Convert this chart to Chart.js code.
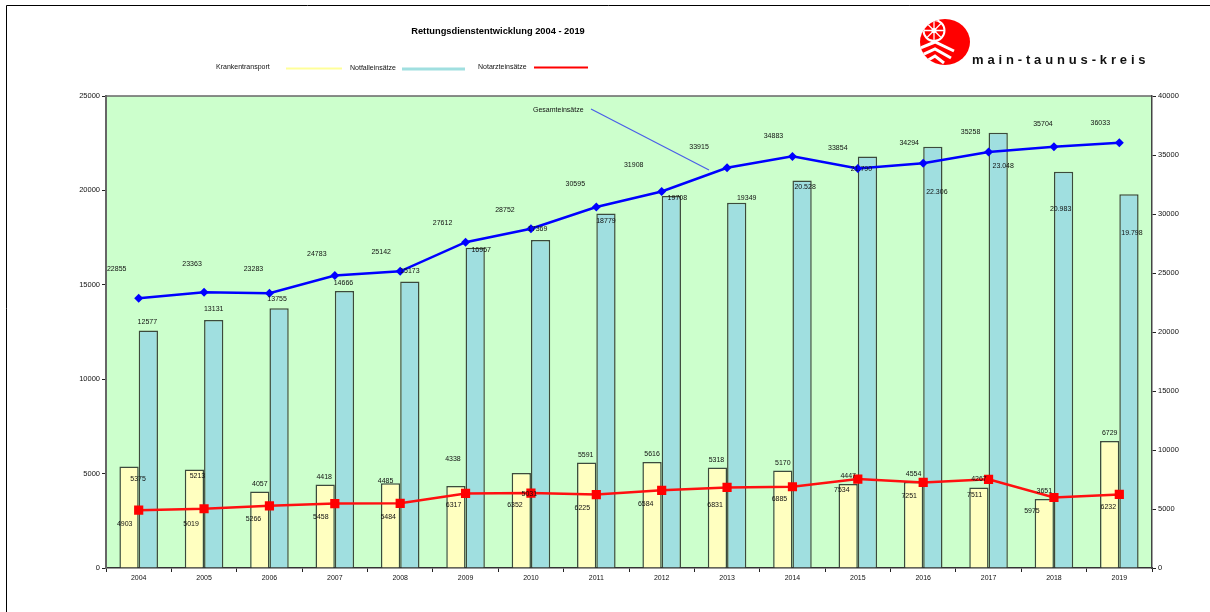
<!DOCTYPE html>
<html lang="de">
<head>
<meta charset="utf-8">
<title>Rettungsdienstentwicklung 2004 - 2019</title>
<script src="https://cdn.jsdelivr.net/npm/chart.js@4"></script>
<style>
html,body{margin:0;padding:0;background:#fff;width:1210px;height:612px;overflow:hidden}
#wrap{position:relative;width:1210px;height:612px;filter:blur(0.35px)}
canvas{position:absolute;left:0;top:0}
#logo{position:absolute;left:0;top:0}
</style>
</head>
<body>
<div id="wrap">
<canvas id="c" width="1210" height="612"></canvas>
<svg id="logo" width="1210" height="612" xmlns="http://www.w3.org/2000/svg">
  <defs><clipPath id="disc"><ellipse cx="945" cy="42" rx="25" ry="23"/></clipPath></defs>
  <ellipse cx="945" cy="42" rx="25" ry="23" fill="#ff0000"/>
  <g clip-path="url(#disc)" fill="none" stroke="#fff">
    <circle cx="934" cy="30.5" r="10.5" stroke-width="2"/>
    <g stroke-width="1.3">
      <line x1="924" y1="30.5" x2="944" y2="30.5"/>
      <line x1="934" y1="20.5" x2="934" y2="40.5"/>
      <line x1="927" y1="23.5" x2="941" y2="37.5"/>
      <line x1="941" y1="23.5" x2="927" y2="37.5"/>
    </g>
    <circle cx="934" cy="30.5" r="2.6" fill="#fff" stroke="none"/>
    <polyline points="918,49 935,42 954,51" stroke-width="3"/>
    <polyline points="920,56 935,49 951,58" stroke-width="3"/>
    <polyline points="925,62 935,56 944,63" stroke-width="3"/>
  </g>
  <text x="972" y="64" font-family="Liberation Sans, Arial, sans-serif" font-size="13" font-weight="bold" letter-spacing="3.85" fill="#111">main-taunus-kreis</text>
</svg>
</div>
<script>
const categories = ['2004','2005','2006','2007','2008','2009','2010','2011','2012','2013','2014','2015','2016','2017','2018','2019'];

const krankentransport = [5375,5213,4057,4418,4485,4338,5031,5591,5616,5318,5170,4447,4554,4267,3651,6729];
const notfalleinsaetze = [12577,13131,13755,14666,15173,16957,17369,18779,19708,19349,20528,21790,22306,23048,20983,19798];
const notarzteinsaetze = [4903,5019,5266,5458,5484,6317,6352,6225,6584,6831,6885,7534,7251,7511,5975,6232];
const gesamteinsaetze = [22855,23363,23283,24783,25142,27612,28752,30595,31908,33915,34883,33854,34294,35258,35704,36033];

const notfallLabels = ['12577','13131','13755','14666','15173','16957','17369','18779','19708','19349','20.528','21.790','22.306','23.048','20.983','19.798'];

const leftTicks = [0,5000,10000,15000,20000,25000];
const rightTicks = [0,5000,10000,15000,20000,25000,30000,35000,40000];

// label placement relative to each mark, as hand-placed in the reference
const krankenOffsetX = [9,3,0,-1,-5,-3,8,-1,0,-1,0,0,0,0,0,0];
const krankenOffsetY = [13,6,-7,-8,-2,-27,21,-7,-8,-8,-7,-8,-8,-8,-8,-8];
const notfallOffsetX = [-1,0,-2,-1,0,6,-3,0,6,10,3,-6,4,5,-3,3];
const notfallOffsetY = [-8,-11,-9,-8,-10,2,-11,8,2,-5,7,12,45,33,37,39];
const notarztOffsetX = [-14,-13,-16,-14,-12,-12,-16,-14,-16,-12,-13,-16,-14,-14,-22,-11];
const notarztOffsetY = [14,15,13,13,14,12,12,14,14,18,12,11,14,16,14,13];
const gesamtOffsetX = [-22,-12,-16,-18,-19,-23,-26,-21,-28,-28,-19,-20,-14,-18,-11,-19];
const gesamtOffsetY = [-29,-28,-24,-21,-19,-19,-19,-23,-26,-21,-20,-20,-20,-20,-23,-20];

const FONT = '"Liberation Sans", Arial, sans-serif';
const TEXT = '#111';

const decor = {
  id: 'decor',
  beforeDraw(chart) {
    const {ctx, chartArea: a} = chart;
    ctx.save();
    ctx.fillStyle = '#ccffcc';
    ctx.fillRect(a.left, a.top, a.right - a.left, a.bottom - a.top);
    ctx.strokeStyle = '#666';
    ctx.lineWidth = 1.5;
    ctx.beginPath(); ctx.moveTo(a.left, a.top); ctx.lineTo(a.right, a.top); ctx.stroke();
    // page frame
    ctx.strokeStyle = '#000';
    ctx.lineWidth = 1;
    ctx.beginPath(); ctx.moveTo(6.5, 612); ctx.lineTo(6.5, 5.5); ctx.lineTo(1210, 5.5); ctx.stroke();
    // title
    ctx.fillStyle = '#000';
    ctx.textAlign = 'center';
    ctx.textBaseline = 'middle';
    ctx.font = 'bold 9.3px ' + FONT;
    ctx.fillText('Rettungsdienstentwicklung 2004 - 2019', 498, 31);
    // legend
    ctx.textAlign = 'left';
    ctx.font = '7px ' + FONT;
    const legend = [
      ['Krankentransport', 216, 67, 286, 342, 68.5, '#ffff99', 2],
      ['Notfalleinsätze', 350, 68, 402, 465, 69, '#a0dfe0', 3],
      ['Notarzteinsätze', 478, 67, 534, 588, 67.5, '#ff0000', 2]
    ];
    legend.forEach(([t, tx, ty, x0, x1, ly, col, w]) => {
      ctx.fillStyle = TEXT;
      ctx.fillText(t, tx, ty);
      ctx.strokeStyle = col; ctx.lineWidth = w;
      ctx.beginPath(); ctx.moveTo(x0, ly); ctx.lineTo(x1, ly); ctx.stroke();
    });
    ctx.restore();
  },
  afterDatasetsDraw(chart) {
    const {ctx} = chart;
    ctx.save();
    // callout for the total line
    ctx.strokeStyle = '#4a5ee8';
    ctx.lineWidth = 1.2;
    ctx.beginPath(); ctx.moveTo(591, 109); ctx.lineTo(709, 170); ctx.stroke();
    ctx.fillStyle = TEXT;
    ctx.font = '7px ' + FONT;
    ctx.textAlign = 'left';
    ctx.textBaseline = 'middle';
    ctx.fillText('Gesamteinsätze', 533, 110);
    // value labels
    ctx.textAlign = 'center';
    chart.data.datasets.forEach((ds, di) => {
      chart.getDatasetMeta(di).data.forEach((el, i) => {
        const txt = ds.labelTexts ? ds.labelTexts[i] : String(ds.data[i]);
        ctx.fillText(txt, el.x + ds.offX[i], el.y + ds.offY[i]);
      });
    });
    ctx.restore();
  }
};

new Chart(document.getElementById('c'), {
  type: 'bar',
  data: {
    labels: categories,
    datasets: [
      {label:'Krankentransport', data:krankentransport, yAxisID:'y', order:3,
       backgroundColor:'#ffffc0', borderColor:'#3c4a3c', borderWidth:1.5,
       categoryPercentage:0.59, barPercentage:1, offX:krankenOffsetX, offY:krankenOffsetY},
      {label:'Notfalleinsätze', data:notfalleinsaetze, yAxisID:'y', order:3,
       backgroundColor:'#a0dfe0', borderColor:'#3c4a3c', borderWidth:1.5,
       categoryPercentage:0.59, barPercentage:1, labelTexts:notfallLabels, offX:notfallOffsetX, offY:notfallOffsetY},
      {type:'line', label:'Notarzteinsätze', data:notarzteinsaetze, yAxisID:'y1', order:2,
       borderColor:'#ff1010', backgroundColor:'#ff0000', borderWidth:2.5,
       pointStyle:'rect', pointRadius:6.5, pointBorderWidth:0, tension:0, offX:notarztOffsetX, offY:notarztOffsetY},
      {type:'line', label:'Gesamteinsätze', data:gesamteinsaetze, yAxisID:'y1', order:1,
       borderColor:'#0000ff', backgroundColor:'#0000ff', borderWidth:2.5,
       pointStyle:'rectRot', pointRadius:4.5, pointBorderWidth:0, tension:0, offX:gesamtOffsetX, offY:gesamtOffsetY}
    ]
  },
  options: {
    responsive:false,
    animation:false,
    devicePixelRatio:1,
    layout:{padding:{top:96,left:0,right:0,bottom:0}},
    plugins:{legend:{display:false},title:{display:false},tooltip:{enabled:false}},
    scales:{
      x:{
        afterFit(s){s.height=44;},
        grid:{offset:true,drawOnChartArea:false,tickLength:4,color:'#222',lineWidth:1},
        border:{color:'#333',width:1.5},
        ticks:{font:{size:7,family:FONT},color:TEXT,padding:2,maxRotation:0,autoSkip:false}
      },
      y:{
        position:'left',min:0,max:25000,
        afterFit(s){s.width=106;},
        afterBuildTicks(s){s.ticks=leftTicks.map(v=>({value:v}));},
        grid:{drawOnChartArea:false,tickLength:4,color:'#222'},
        border:{color:'#666',width:2},
        ticks:{font:{size:7.5,family:FONT},color:TEXT,padding:2,callback:v=>String(v)}
      },
      y1:{
        position:'right',min:0,max:40000,
        afterFit(s){s.width=58;},
        afterBuildTicks(s){s.ticks=rightTicks.map(v=>({value:v}));},
        grid:{drawOnChartArea:false,tickLength:4,color:'#222'},
        border:{color:'#444',width:1.5},
        ticks:{font:{size:7.5,family:FONT},color:TEXT,padding:2,callback:v=>String(v)}
      }
    }
  },
  plugins:[decor]
});
</script>
</body>
</html>
